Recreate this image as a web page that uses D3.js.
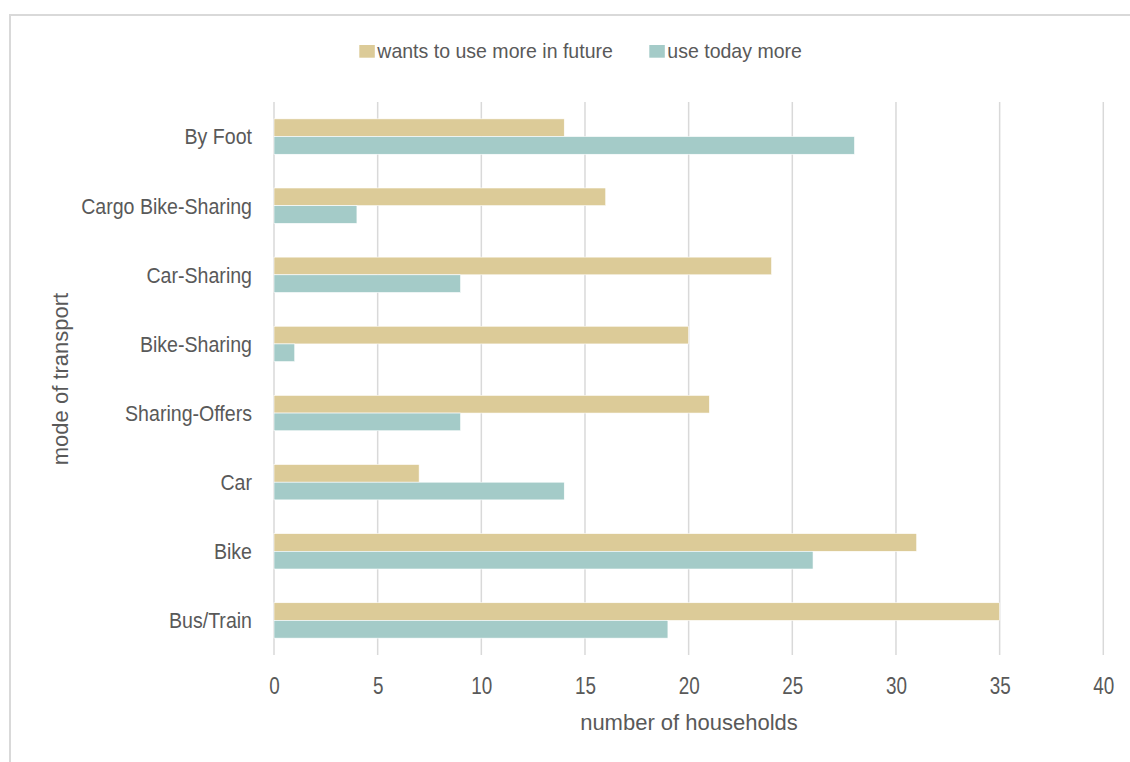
<!DOCTYPE html>
<html><head><meta charset="utf-8">
<script src="https://cdn.jsdelivr.net/npm/d3@7"></script>
<style>html,body{margin:0;padding:0;background:#fff;}svg{display:block;}</style>
</head><body>
<script>
const categories = ["By Foot","Cargo Bike-Sharing","Car-Sharing","Bike-Sharing","Sharing-Offers","Car","Bike","Bus/Train"];
const seriesNames = ["wants to use more in future","use today more"];
const wantsMore = [14,16,24,20,21,7,31,35];
const todayMore = [28,4,9,1,9,14,26,19];
const xTicks = [0,5,10,15,20,25,30,35,40];

const W=1130,H=762;
const colors=["#DCCB98","#A4CBC8"];
const textColor="#595959";
const font="'Liberation Sans', Arial, sans-serif";

function squeeze(sel,f){
  sel.each(function(){
    const len=this.getComputedTextLength();
    d3.select(this).attr("textLength",len*f).attr("lengthAdjust","spacingAndGlyphs");
  });
}

const svg=d3.select("body").append("svg").attr("width",W).attr("height",H);
// outer frame
svg.append("path").attr("d",`M${W},15 H10 V${H}`).attr("fill","none").attr("stroke","#d9d9d9").attr("stroke-width",2);

const x=d3.scaleLinear().domain([0,40]).range([274,1103.3]);
const y=d3.scaleBand().domain(categories).range([102,655]).paddingInner(0.488).paddingOuter(0.244);
const ys=d3.scaleBand().domain(seriesNames).range([0,y.bandwidth()]);

// gridlines
svg.append("g").selectAll("line").data(xTicks).join("line")
  .attr("x1",d=>x(d)).attr("x2",d=>x(d)).attr("y1",102).attr("y2",655)
  .attr("stroke","#d9d9d9").attr("stroke-width",1.5);

// bars
const data=categories.map((c,i)=>({c,vals:[wantsMore[i],todayMore[i]]}));
const g=svg.append("g").selectAll("g").data(data).join("g").attr("transform",d=>`translate(0,${y(d.c)})`);
g.selectAll("rect").data(d=>d.vals.map((v,j)=>({v,s:seriesNames[j],j}))).join("rect")
  .attr("x",x(0)).attr("y",d=>ys(d.s)).attr("width",d=>x(d.v)-x(0)).attr("height",ys.bandwidth())
  .attr("fill",d=>colors[d.j]).attr("stroke","#fff").attr("stroke-width",0.6);

// x axis
const xAxis=svg.append("g").attr("transform","translate(0,655)")
  .call(d3.axisBottom(x).tickValues(xTicks).tickSize(0).tickPadding(0));
xAxis.select(".domain").remove();
xAxis.selectAll("text").attr("y",39).attr("dy",null).attr("font-size",23).attr("font-family",font).attr("fill",textColor);
squeeze(xAxis.selectAll("text"),0.82);

// y axis
const yAxis=svg.append("g").attr("transform","translate(274,0)")
  .call(d3.axisLeft(y).tickSize(0).tickPadding(22));
yAxis.select(".domain").remove();
yAxis.selectAll("text").attr("dy","0.36em").attr("font-size",22).attr("font-family",font).attr("fill",textColor);
squeeze(yAxis.selectAll("text"),0.89);

// axis titles
svg.append("text").attr("x",689).attr("y",729.5).attr("text-anchor","middle")
  .attr("font-size",22).attr("font-family",font).attr("fill",textColor).text("number of households");
svg.append("text").attr("transform","translate(67.5,379) rotate(-90)").attr("text-anchor","middle")
  .attr("font-size",22).attr("font-family",font).attr("fill",textColor).text("mode of transport");

// legend
const legend=svg.append("g");
const legendX=[359.3,649.3];
seriesNames.forEach((s,i)=>{
  legend.append("rect").attr("x",legendX[i]).attr("y",45).attr("width",15.5).attr("height",12.7).attr("fill",colors[i]);
  const t=legend.append("text").attr("x",legendX[i]+18).attr("y",57.7).attr("font-size",21).attr("font-family",font).attr("fill",textColor).text(s);
  squeeze(t,0.93);
});
</script>
</body></html>
